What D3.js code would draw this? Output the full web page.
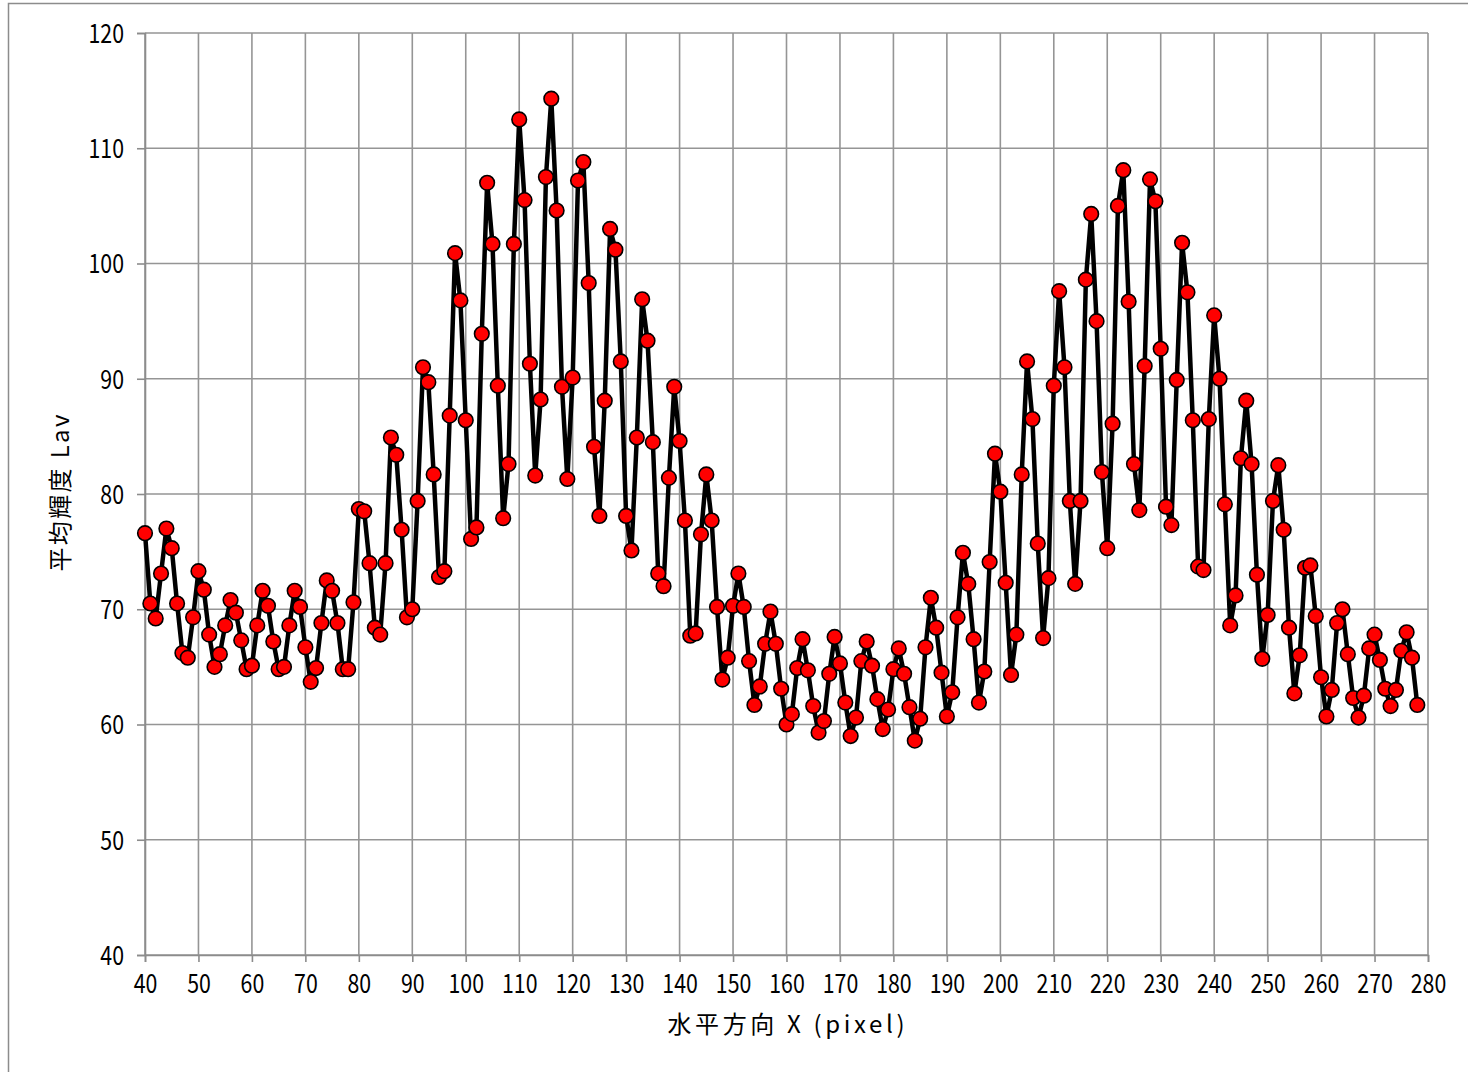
<!DOCTYPE html>
<html><head><meta charset="utf-8">
<script src="https://cdn.jsdelivr.net/npm/d3@7"></script>
<style>html,body{margin:0;padding:0;background:#fff;}svg{display:block;}</style>
</head><body>
<svg id="chart" width="1468" height="1072"></svg>
<script>
const xStart = 40;
const lav = [
76.6,70.5,69.2,73.1,77.0,75.3,70.5,66.2,65.8,69.3,
73.3,71.7,67.8,65.0,66.1,68.6,70.8,69.7,67.3,64.8,
65.1,68.6,71.6,70.3,67.2,64.8,65.0,68.6,71.6,70.2,
66.7,63.7,64.9,68.8,72.5,71.6,68.8,64.8,64.8,70.6,
78.7,78.5,74.0,68.4,67.8,74.0,84.9,83.4,76.9,69.3,
70.0,79.4,91.0,89.7,81.7,72.8,73.3,86.8,100.9,96.8,
86.4,76.1,77.1,93.9,107.0,101.7,89.4,77.9,82.6,101.7,
112.5,105.5,91.3,81.6,88.2,107.5,114.3,104.6,89.3,81.3,
90.1,107.2,108.8,98.3,84.1,78.1,88.1,103.0,101.2,91.5,
78.1,75.1,84.9,96.9,93.3,84.5,73.1,72.0,81.4,89.3,
84.6,77.7,67.7,67.9,76.5,81.7,77.7,70.2,63.9,65.8,
70.3,73.1,70.2,65.5,61.7,63.3,67.0,69.8,67.0,63.1,
60.0,60.9,64.9,67.4,64.7,61.6,59.3,60.3,64.4,67.6,
65.3,61.9,59.0,60.6,65.5,67.2,65.1,62.2,59.6,61.3,
64.8,66.6,64.4,61.5,58.6,60.5,66.7,71.0,68.4,64.5,
60.7,62.8,69.3,74.9,72.2,67.4,61.9,64.6,74.1,83.5,
80.2,72.3,64.3,67.8,81.7,91.5,86.5,75.7,67.5,72.7,
89.4,97.6,91.0,79.4,72.2,79.4,98.6,104.3,95.0,81.9,
75.3,86.1,105.0,108.1,96.7,82.6,78.6,91.1,107.3,105.4,
92.6,78.9,77.3,89.9,101.8,97.5,86.4,73.7,73.4,86.5,
95.5,90.0,79.1,68.6,71.2,83.1,88.1,82.6,73.0,65.7,
69.5,79.4,82.5,76.9,68.4,62.7,66.0,73.6,73.8,69.4,
64.1,60.7,63.0,68.8,70.0,66.1,62.3,60.6,62.5,66.6,
67.8,65.6,63.1,61.6,63.0,66.4,68.0,65.8,61.7
];
const xTicks = [40,50,60,70,80,90,100,110,120,130,140,150,160,170,180,190,200,210,220,230,240,250,260,270,280];
const yTicks = [40,50,60,70,80,90,100,110,120];
const xTitle = "水平方向 X (pixel)";
const yTitle = "平均輝度 Lav";

const data = lav.map((v,i)=>({x:xStart+i, y:v}));
const svg = d3.select("#chart");
const L=145, T=33, R=1428, B=955;
const font = "'Noto Sans CJK JP','Noto Sans',sans-serif";
const SX = 0.82;

// outer frame
svg.append("rect").attr("x",8.5).attr("y",3.5).attr("width",1468).attr("height",1080)
  .attr("fill","#fff").attr("stroke","#8c8c8c").attr("stroke-width",1.5);

const x = d3.scaleLinear().domain([40,280]).range([L,R]);
const y = d3.scaleLinear().domain([40,120]).range([B,T]);

// gridlines
svg.append("g").selectAll("line").data(xTicks).join("line")
  .attr("x1",d=>x(d)).attr("x2",d=>x(d)).attr("y1",T).attr("y2",B)
  .attr("stroke","#959595").attr("stroke-width",1.6);
svg.append("g").selectAll("line").data(yTicks).join("line")
  .attr("x1",L).attr("x2",R).attr("y1",d=>y(d)).attr("y2",d=>y(d))
  .attr("stroke","#959595").attr("stroke-width",1.6);

// axes
const xAxis = svg.append("g").attr("transform",`translate(0,${B})`)
  .call(d3.axisBottom(x).tickValues(xTicks).tickSize(7).tickPadding(13).tickFormat(d3.format("d")));
const yAxis = svg.append("g").attr("transform",`translate(${L},0)`)
  .call(d3.axisLeft(y).tickValues(yTicks).tickSize(8).tickPadding(13).tickFormat(d3.format("d")));
[xAxis,yAxis].forEach(a=>{
  a.select(".domain").attr("stroke","#8c8c8c").attr("stroke-width",1.6);
  a.selectAll(".tick line").attr("stroke","#8c8c8c").attr("stroke-width",1.6);
  a.selectAll("text").attr("fill","#000").style("font-family",font).style("font-size","26px")
    .attr("transform",`scale(${SX},1)`);
});
yAxis.selectAll("text").attr("x",-21/SX).attr("dy","0.36em");

// line
svg.append("path").datum(data)
  .attr("d",d3.line().x(d=>x(d.x)).y(d=>y(d.y)))
  .attr("fill","none").attr("stroke","#000").attr("stroke-width",4.5).attr("stroke-linejoin","round");

// markers
svg.append("g").selectAll("circle").data(data).join("circle")
  .attr("cx",d=>x(d.x)).attr("cy",d=>y(d.y)).attr("r",7.3)
  .attr("fill","#ff0000").attr("stroke","#000").attr("stroke-width",1.6);

// titles
svg.append("text").attr("x",786).attr("y",1033).attr("text-anchor","middle")
  .style("font-family",font).style("font-size","24px")
  .attr("textLength",237).attr("lengthAdjust","spacing").text(xTitle);
svg.append("text").attr("transform",`translate(69,${(T+B)/2-1}) rotate(-90)`).attr("text-anchor","middle")
  .style("font-family",font).style("font-size","24px")
  .attr("textLength",157).attr("lengthAdjust","spacing").text(yTitle);
</script>
</body></html>
